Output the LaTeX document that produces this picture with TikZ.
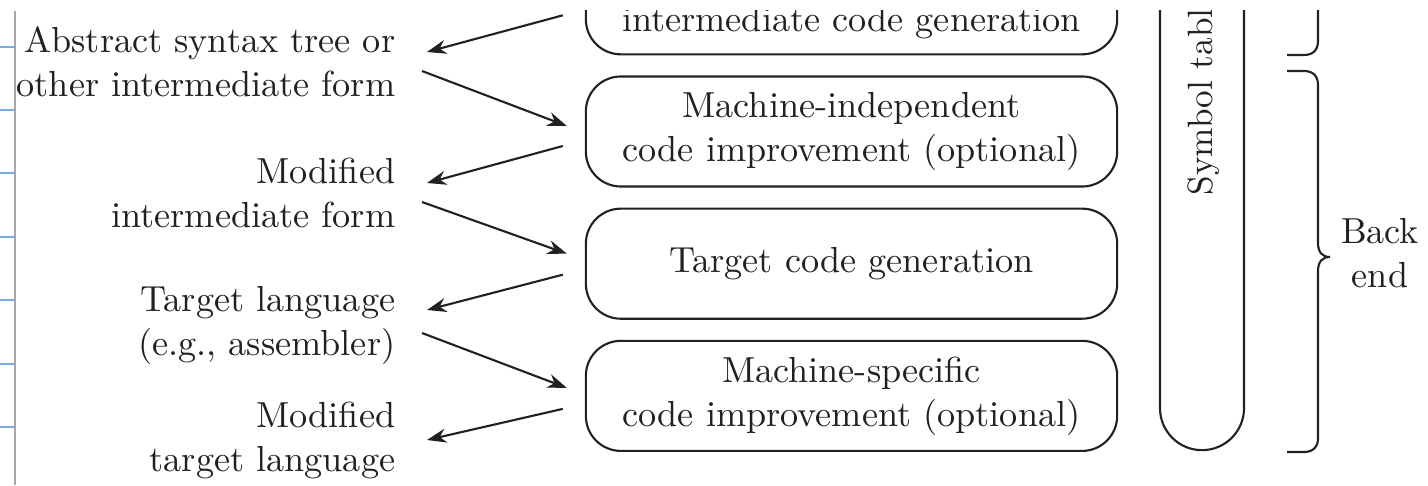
\documentclass[tikz,border=0pt]{standalone}
\usetikzlibrary{positioning, arrows.meta}
\definecolor{ink}{gray}{0.13}
\definecolor{tick}{RGB}{120,170,230}

\begin{document}
\begin{tikzpicture}[
        x=0.01cm, y=0.01cm,
        node distance=0.2cm,
        font=\fontsize{10.3}{12.5}\selectfont,
        phase/.style={
            rectangle,
            draw=ink,
            line width=0.6pt,
            rounded corners=0.35cm,
            minimum width=5.31cm,
            minimum height=1.1cm,
            align=center,
            text=ink
        },
        form/.style={
            align=right,
            inner sep=0pt,
            text=ink,
            anchor=east
        },
        line/.style={
            draw=ink,
            -{Stealth[length=5.5pt, width=4pt]},
            line width=0.6pt
        },
        brace/.style={
            draw=ink,
            line width=0.6pt
        }
    ]
        \useasboundingbox (0,0) rectangle (1428,-485);
        \clip (0,-11) rectangle (1428,-485);

        % Page margin
        \draw [gray!70, line width=0.5pt] (15,-11) -- (15,-485);
        \foreach \y in {47, 110, 173, 237, 300, 364, 427}
            \draw [tick, line width=0.5pt] (0,-\y) -- (14,-\y);

        % Phases
        \node [phase] (mi) at (851.5,-131.5) {Machine-independent\\code improvement (optional)};
        \node [phase, above=of mi] (icg) {};
        \node [anchor=base, text=ink] (icgtext) at ([yshift=0.24cm]icg.south) {intermediate code generation};
        \node [phase, below=of mi] (tc) {Target code generation};
        \node [phase, below=of tc] (ms) {Machine-specific\\code improvement (optional)};

        % Forms
        \node [form] (ast) at (396,-61.5) {Abstract syntax tree or\\other intermediate form};
        \node [form] (mif) at (396,-192.5) {Modified\\intermediate form};
        \node [form] (tl) at (396,-325) {Target language\\(e.g., assembler)};
        \node [form] (mtl) at (396,-440) {Modified\\target language};

        % Symbol table
        \node [rectangle, draw=ink, line width=0.6pt, rounded corners=0.42cm, minimum width=0.84cm, minimum height=5.5cm] (symtab) at (1202,-175) {};
        \node [rotate=90, anchor=base west, text=ink, inner sep=0pt, font=\fontsize{10}{12}\selectfont] (symtext) at (1212,-196) {Symbol tabl};

        % Arrows
        \path [line] ([shift={(-22,-16)}]icg.west) -- ([shift={(31,9.5)}]ast.east);
        \path [line] ([shift={(26,-9.5)}]ast.east) -- ([shift={(-18,5.5)}]mi.west);
        \path [line] ([shift={(-22,-14.5)}]mi.west) -- ([shift={(31,9.5)}]mif.east);
        \path [line] ([shift={(26,-9.5)}]mif.east) -- ([shift={(-18,10)}]tc.west);
        \path [line] ([shift={(-22,-11)}]tc.west) -- ([shift={(31,15)}]tl.east);
        \path [line] ([shift={(26,-8)}]tl.east) -- ([shift={(-18,8)}]ms.west);
        \path [line] ([shift={(-22,-13)}]ms.west) -- ([shift={(31,0)}]mtl.east);

        % Braces
        \draw [brace] (1318,0) -- (1318,-41) .. controls (1318,-50) and (1313,-55) .. (1304,-55) -- (1287,-55);
        \draw [brace] (1287,-71) -- (1304,-71) .. controls (1313,-71) and (1318,-76) .. (1318,-85) -- (1318,-243) .. controls (1318,-252) and (1322,-257) .. (1330,-257) .. controls (1322,-257) and (1318,-262) .. (1318,-271) -- (1318,-438) .. controls (1318,-447) and (1313,-452) .. (1304,-452) -- (1287,-452);
        \node [text=ink, align=center] (back) at (1380,-253) {Back\\end};
    \end{tikzpicture}
\end{document}
